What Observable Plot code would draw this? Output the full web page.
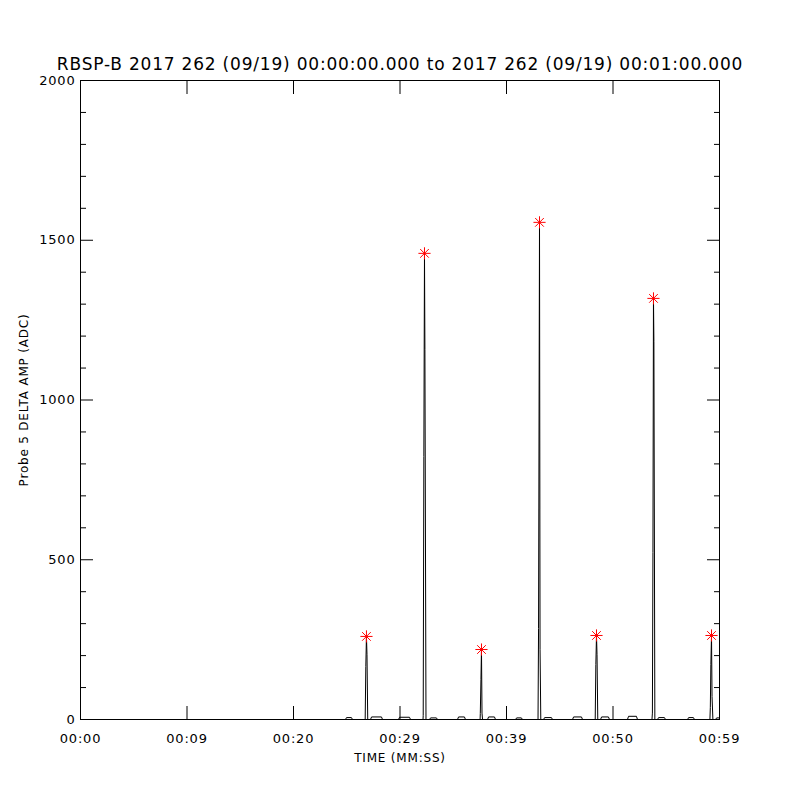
<!DOCTYPE html>
<html><head><meta charset="utf-8">
<script src="https://cdn.jsdelivr.net/npm/d3@7"></script>
<script src="https://cdn.jsdelivr.net/npm/@observablehq/plot@0.6"></script>
<style>
body{margin:0;background:#fff;}
#chart svg{font-family:"DejaVu Sans",sans-serif;}
#chart svg text{letter-spacing:0.8px;}
#chart g[aria-label="chart-title"] text{letter-spacing:0.95px;}
</style></head><body><div id="chart"></div>
<script>
const titleText = "RBSP-B 2017 262 (09/19) 00:00:00.000 to 2017 262 (09/19) 00:01:00.000";
const xLabel = "TIME (MM:SS)";
const yLabel = "Probe 5 DELTA AMP (ADC)";
const xTickValues = [0, 10, 20, 30, 40, 50, 60];
const xTickLabels = ["00:00", "00:09", "00:20", "00:29", "00:39", "00:50", "00:59"];
const yMajorTicks = [0, 500, 1000, 1500, 2000];
const yMinorTicks = [100, 200, 300, 400, 600, 700, 800, 900, 1100, 1200, 1300, 1400, 1600, 1700, 1800, 1900];

// seconds since 00:00:00 and amplitude (ADC)
const times = [
  0, 24.88, 24.98, 25.44, 25.54,
  26.73, 26.79, 26.85, 26.90, 26.97,
  27.23, 27.33, 28.26, 28.36,
  29.86, 29.96, 30.89, 30.99,
  32.16, 32.18, 32.24, 32.30, 32.34, 32.44,
  32.77, 32.87, 33.42, 33.52,
  35.40, 35.50, 36.05, 36.15,
  37.52, 37.54, 37.60, 37.65, 37.70, 37.75,
  38.22, 38.32, 38.87, 38.97,
  40.85, 40.95, 41.40, 41.50,
  42.96, 43.01, 43.06, 43.10, 43.15, 43.22,
  43.48, 43.58, 44.22, 44.32,
  46.20, 46.30, 47.04, 47.14,
  48.33, 48.39, 48.45, 48.50, 48.57,
  48.83, 48.93, 49.57, 49.67,
  51.36, 51.46, 52.20, 52.30,
  53.66, 53.70, 53.75, 53.80, 53.84, 53.93,
  54.18, 54.28, 54.83, 54.93,
  57.00, 57.10, 57.55, 57.65,
  59.10, 59.14, 59.19, 59.25, 59.30, 59.38,
  59.63, 59.73, 60
];
const amps = [
  0, 0, 6, 6, 0,
  0, 166, 260, 203, 0,
  0, 8, 8, 0,
  0, 7, 7, 0,
  0, 12, 823, 1459, 1158, 0,
  0, 5, 5, 0,
  0, 8, 8, 0,
  0, 19, 125, 219, 20, 0,
  0, 8, 8, 0,
  0, 5, 5, 0,
  0, 285, 1000, 1556, 220, 0,
  0, 6, 6, 0,
  0, 8, 8, 0,
  0, 172, 263, 203, 0,
  0, 8, 8, 0,
  0, 10, 10, 0,
  0, 20, 523, 1318, 1183, 0,
  0, 6, 6, 0,
  0, 6, 6, 0,
  0, 38, 172, 263, 72, 0,
  0, 5, 5
];
const peakTimes = [26.85, 32.30, 37.65, 43.10, 48.45, 53.80, 59.25];
const peakAmps = [260, 1459, 219, 1556, 263, 1318, 263];

const data = times.map((t, i) => ({t, a: amps[i]}));
const peaks = peakTimes.map((t, i) => ({t, a: peakAmps[i]}));
const fmtX = d => xTickLabels[xTickValues.indexOf(d)];

const chart = Plot.plot({
  width: 800, height: 800,
  marginTop: 80, marginBottom: 81, marginLeft: 80, marginRight: 81,
  style: {fontFamily: "DejaVu Sans, sans-serif", fontSize: "13px", color: "black", background: "white"},
  x: {domain: [0, 60]},
  y: {domain: [0, 2000]},
  marks: [
    Plot.line(data, {x: "t", y: "a", stroke: "black", strokeWidth: 1}),
    Plot.dot(peaks, {x: "t", y: "a", symbol: "plus", r: 4, stroke: "red", strokeWidth: 1}),
    Plot.dot(peaks, {x: "t", y: "a", symbol: "times", r: 4, stroke: "red", strokeWidth: 1}),
    Plot.frame({stroke: "black"}),
    // x ticks (inside), bottom and top
    Plot.axisX({anchor: "bottom", ticks: xTickValues, tickSize: -13, tickFormat: null, label: null, text: null}),
    Plot.axisX({anchor: "top", ticks: xTickValues, tickSize: -13, tickFormat: null, label: null, text: null}),
    Plot.axisX({anchor: "bottom", ticks: xTickValues, tickSize: 0, tickPadding: 14, tickFormat: fmtX, label: null}),
    // y ticks (inside), left and right
    Plot.axisY({anchor: "left", ticks: yMajorTicks, tickSize: -13, label: null, text: null}),
    Plot.axisY({anchor: "right", ticks: yMajorTicks, tickSize: -13, label: null, text: null}),
    Plot.axisY({anchor: "left", ticks: yMinorTicks, tickSize: -6, label: null, text: null}),
    Plot.axisY({anchor: "right", ticks: yMinorTicks, tickSize: -6, label: null, text: null}),
    Plot.axisY({anchor: "left", ticks: yMajorTicks, tickSize: 0, tickPadding: 5, tickFormat: d => String(d), label: null}),
    // titles
    Plot.text([titleText], {frameAnchor: "top", dy: -16, text: d => d, fontSize: 17, lineAnchor: "middle", textAnchor: "middle", ariaLabel: "chart-title"}),
    Plot.text([xLabel], {frameAnchor: "bottom", dy: 39, text: d => d, fontSize: 12, lineAnchor: "middle", textAnchor: "middle"}),
    Plot.text([yLabel], {frameAnchor: "left", dx: -56, rotate: -90, text: d => d, fontSize: 12, lineAnchor: "middle", textAnchor: "middle"})
  ]
});
document.getElementById("chart").append(chart);
</script>
</body></html>
